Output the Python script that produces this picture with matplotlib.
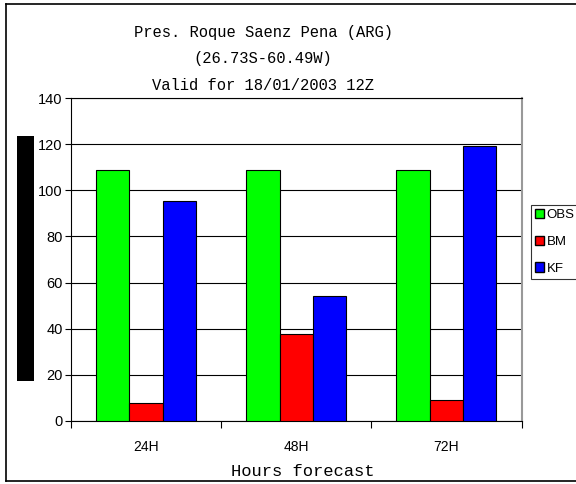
"""Bar chart: observed vs BM / KF forecasts, Pres. Roque Saenz Pena (ARG)."""
import matplotlib; matplotlib.use("Agg"); import matplotlib.pyplot as plt
from matplotlib.patches import Patch, Rectangle
from matplotlib.lines import Line2D
import numpy as np

hours = ["24H", "48H", "72H"]
obs = [109, 109, 109]
bm = [8, 37.5, 9]
kf = [95.5, 54, 119]
series = [("OBS", obs, "#00ff00"), ("BM", bm, "#ff0000"), ("KF", kf, "#0000ff")]
yticks = [0, 20, 40, 60, 80, 100, 120, 140]

MONO = ["Liberation Mono", "DejaVu Sans Mono"]
SANS = ["Liberation Sans Narrow", "Liberation Sans", "DejaVu Sans"]
W, H = 576, 484

fig = plt.figure(figsize=(W / 100, H / 100), dpi=100)
ax = fig.add_axes([71 / W, 1 - 421 / H, 450.5 / W, 323 / H])

x = np.arange(len(hours))
bw = 0.222
for i, (name, vals, col) in enumerate(series):
    ax.bar(x + (i - 1) * bw, vals, bw, color=col, edgecolor="black", linewidth=0.8,
           label=name, zorder=3)

ax.set_xlim(-0.5, 2.5)
ax.set_ylim(0, 140)
ax.set_yticks(yticks)
ax.set_yticklabels([str(v) for v in yticks], family=SANS, fontsize=10.5)
ax.yaxis.grid(True, color="black", linewidth=0.8, zorder=0)
ax.tick_params(axis="y", length=4, width=0.8, pad=2)
# category separators as ticks, labels in the middle
ax.set_xticks([-0.5, 0.5, 1.5, 2.5])
ax.set_xticklabels([])
ax.set_xticks(x, minor=True)
ax.set_xticklabels(hours, minor=True, family=SANS, fontsize=10)
ax.tick_params(axis="x", which="major", length=5, width=0.8)
ax.tick_params(axis="x", which="minor", length=0, pad=14)
for s in ["left", "bottom", "top"]:
    ax.spines[s].set_color("black")
    ax.spines[s].set_linewidth(0.8)
ax.spines["right"].set_color("#999999")
ax.spines["right"].set_linewidth(1.5)

# title lines
for txt, yb in [("Pres. Roque Saenz Pena (ARG)", 37), ("(26.73S-60.49W)", 63),
                ("Valid for 18/01/2003 12Z", 90)]:
    fig.text(263 / W, 1 - yb / H, txt, ha="center", va="baseline", family=MONO, fontsize=11.2)
fig.text(303 / W, 1 - 476 / H, "Hours forecast", ha="center", va="baseline",
         family=MONO, fontsize=12.3)

# y-label area is blacked out in the source
fig.patches.append(Rectangle((17 / W, 1 - 381 / H), 17 / W, 245 / H, transform=fig.transFigure,
                             facecolor="black", edgecolor="none"))
# outer frame (right side runs off the image)
for xs, ys in [([6, 600], [4, 4]), ([6, 6], [4, 481]), ([6, 600], [481, 481])]:
    fig.lines.append(Line2D([v / W for v in xs], [1 - v / H for v in ys],
                            transform=fig.transFigure, color="black", linewidth=1.2))

leg = fig.legend(handles=[Patch(facecolor=c, edgecolor="black", label=n) for n, _, c in series],
                 loc="upper left", bbox_to_anchor=(531 / W, 1 - 205 / H), frameon=True,
                 fancybox=False, edgecolor="black", prop={"family": SANS, "size": 9.5},
                 handlelength=0.7, handleheight=0.7, handletextpad=0.2, labelspacing=1.1,
                 borderpad=0.3, borderaxespad=0)
leg.get_frame().set_linewidth(0.8)

fig.savefig("out.png", dpi=100)
